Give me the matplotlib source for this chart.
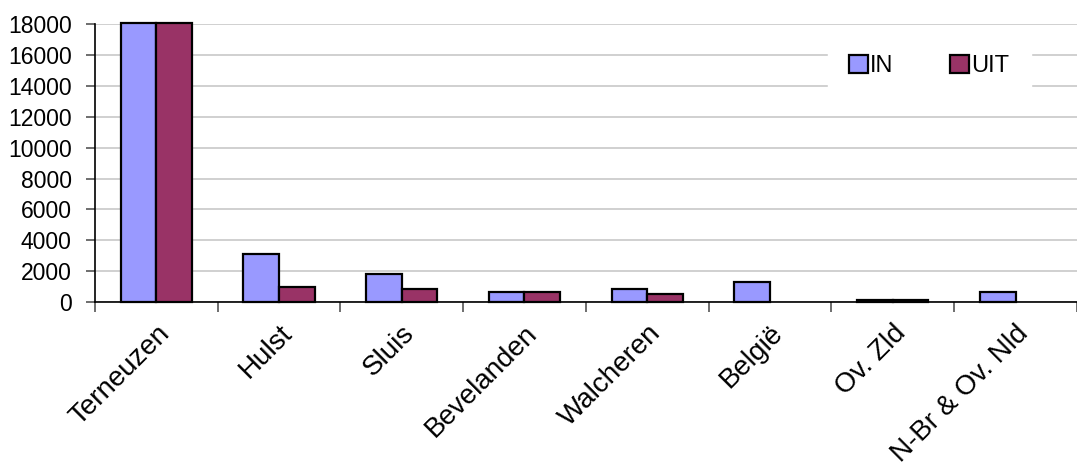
import numpy as np
import matplotlib.pyplot as plt

plt.rcParams['font.family'] = ['Liberation Sans', 'DejaVu Sans']

regios = ['Terneuzen', 'Hulst', 'Sluis', 'Bevelanden', 'Walcheren', 'België', 'Ov. Zld', 'N-Br & Ov. Nld']
waarden_in = [18100, 3100, 1800, 670, 820, 1320, 150, 670]
waarden_uit = [18100, 1000, 820, 670, 500, 0, 130, 0]

fig = plt.figure(figsize=(10.77, 4.66), dpi=100)
ax = fig.add_axes([0.088, 0.352, 0.912, 0.596])

x = np.arange(len(regios))
w = 0.29
vin = np.array(waarden_in, dtype=float)
vuit = np.array(waarden_uit, dtype=float)
# lege waarden niet tekenen (geen randlijn op nul)
m_in = vin > 0
m_uit = vuit > 0
ax.bar(x[m_in] - w / 2, vin[m_in], w, color='#9999FF', edgecolor='black', linewidth=1.6,
       label='IN', clip_on=False, zorder=3)
ax.bar(x[m_uit] + w / 2, vuit[m_uit], w, color='#993366', edgecolor='black', linewidth=1.6,
       label='UIT', clip_on=False, zorder=3)

ax.set_xlim(-0.5, len(regios) - 0.5)
ax.set_ylim(0, 18000)
ax.set_yticks(range(0, 18001, 2000))
ax.yaxis.grid(True, color='#c8c8c8', linewidth=1.2)
ax.set_axisbelow(True)

ax.set_xticks(np.arange(-0.5, len(regios), 1))
ax.set_xticklabels([])
ax.set_xticks(x, minor=True)
ax.set_xticklabels(regios, minor=True, rotation=45, ha='right', rotation_mode='anchor', fontsize=20)
ax.tick_params(axis='x', which='minor', length=0, pad=13)
ax.tick_params(axis='x', which='major', length=7, width=1.2, color='#555555')
ax.tick_params(axis='y', labelsize=16.5, length=6.5, width=1.2, color='#555555', pad=10)

for s in ['top', 'right']:
    ax.spines[s].set_visible(False)
ax.spines['left'].set_linewidth(1.2)
ax.spines['bottom'].set_linewidth(1.2)

leg = ax.legend(ncol=2, loc='upper right', bbox_to_anchor=(0.965, 1.01), frameon=True,
                fontsize=17, handlelength=0.8, handleheight=0.8, handletextpad=0.1,
                columnspacing=2.4, borderpad=0.9, fancybox=False)
leg.get_frame().set_edgecolor('white')
leg.get_frame().set_facecolor('white')
leg.get_frame().set_alpha(1)

fig.savefig('out.png', dpi=100)
